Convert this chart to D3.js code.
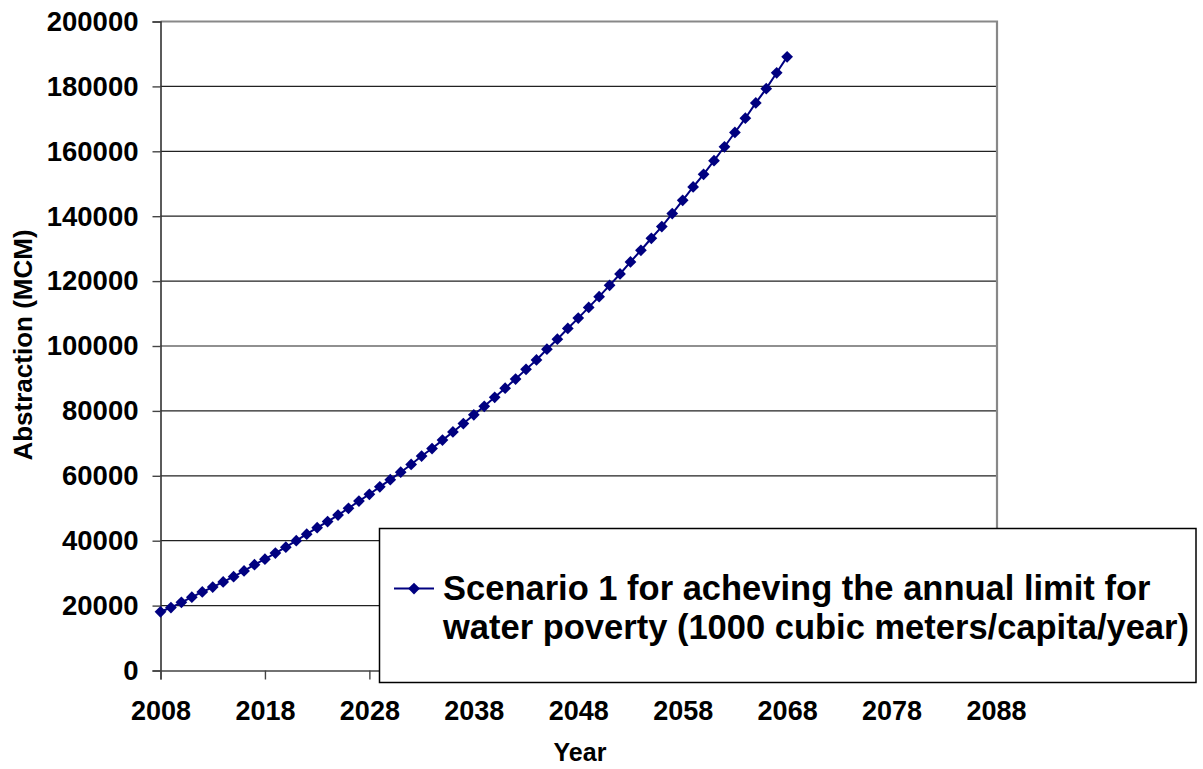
<!DOCTYPE html>
<html>
<head>
<meta charset="utf-8">
<script src="https://cdn.jsdelivr.net/npm/d3@7"></script>
<style>
  html, body { margin: 0; padding: 0; background: #fff; }
  svg { display: block; font-family: Arial, "Liberation Sans", sans-serif; font-weight: bold; }
</style>
</head>
<body>
<svg id="chart" width="1203" height="769"></svg>
<script>
// Projected annual abstraction, million cubic metres
const years = [
  2008, 2009, 2010, 2011, 2012, 2013, 2014, 2015, 2016, 2017,
  2018, 2019, 2020, 2021, 2022, 2023, 2024, 2025, 2026, 2027,
  2028, 2029, 2030, 2031, 2032, 2033, 2034, 2035, 2036, 2037,
  2038, 2039, 2040, 2041, 2042, 2043, 2044, 2045, 2046, 2047,
  2048, 2049, 2050, 2051, 2052, 2053, 2054, 2055, 2056, 2057,
  2058, 2059, 2060, 2061, 2062, 2063, 2064, 2065, 2066, 2067, 2068
];
const abstraction = [
  18100, 19400, 21000, 22600, 24200, 25700, 27300, 28900, 30700, 32600,
  34300, 36200, 38000, 40000, 42000, 44000, 45900, 47900, 50000, 52200,
  54300, 56600, 58800, 61100, 63500, 66100, 68400, 71000, 73500, 76100,
  78800, 81400, 84200, 87000, 89800, 92800, 95700, 99000, 102100, 105400,
  108600, 111900, 115200, 118700, 122200, 125900, 129500, 133200, 136800, 140800,
  144900, 149000, 152900, 157100, 161400, 165800, 170200, 174900, 179300, 184200, 189100
];
const xTicks = [2008, 2018, 2028, 2038, 2048, 2058, 2068, 2078, 2088];
const yTicks = [0, 20000, 40000, 60000, 80000, 100000, 120000, 140000, 160000, 180000, 200000];
const seriesName = ["Scenario 1 for acheving the annual limit for",
                    "water poverty (1000 cubic meters/capita/year)"];

const svg = d3.select("#chart");
const plot = { left: 160.5, right: 997, top: 21.5, bottom: 670.5 };
const navy = "#000080";
const font = "Arial, 'Liberation Sans', sans-serif";

const x = d3.scaleLinear().domain([2008, 2088]).range([plot.left, plot.right - 1]);
const y = d3.scaleLinear().domain([0, 200000]).range([plot.bottom, plot.top]);

// horizontal gridlines
svg.append("g")
  .selectAll("line")
  .data(yTicks.filter(v => v > 0 && v < 200000))
  .join("line")
  .attr("x1", plot.left).attr("x2", plot.right)
  .attr("y1", d => y(d)).attr("y2", d => y(d))
  .attr("stroke", "#222").attr("stroke-width", 1.2);

// top and right frame
svg.append("path")
  .attr("d", `M${plot.left},${plot.top}H${plot.right}V${plot.bottom}`)
  .attr("fill", "none").attr("stroke", "#888").attr("stroke-width", 2.2);

// y axis
const yAxis = d3.axisLeft(y).tickValues(yTicks).tickSize(8).tickPadding(14).tickFormat(d3.format("d"));
const gy = svg.append("g").attr("transform", `translate(${plot.left},0)`).call(yAxis);
gy.select(".domain").attr("stroke", "#333").attr("stroke-width", 1.6);
gy.selectAll(".tick line").attr("stroke", "#444").attr("stroke-width", 1.4);
gy.selectAll(".tick text").attr("font-size", 27.5).attr("font-weight", "bold")
  .attr("font-family", font).attr("fill", "#000");

// x axis
const xAxis = d3.axisBottom(x).tickValues(xTicks).tickSize(9).tickPadding(21).tickFormat(d3.format("d"));
const gx = svg.append("g").attr("transform", `translate(0,${plot.bottom})`).call(xAxis);
gx.select(".domain").attr("stroke", "#444").attr("stroke-width", 1.6);
gx.selectAll(".tick line").attr("stroke", "#444").attr("stroke-width", 1.4);
gx.selectAll(".tick text").attr("font-size", 27).attr("font-weight", "bold")
  .attr("font-family", font).attr("fill", "#000");

// axis titles
svg.append("text")
  .attr("transform", `translate(32,${(plot.top + plot.bottom) / 2 - 1}) rotate(-90)`)
  .attr("text-anchor", "middle")
  .attr("font-size", 26)
  .text("Abstraction (MCM)");

svg.append("text")
  .attr("x", 580).attr("y", 761)
  .attr("text-anchor", "middle")
  .attr("font-size", 25)
  .text("Year");

// series line and diamond markers
const pts = years.map((yr, i) => [yr, abstraction[i]]);
svg.append("path")
  .datum(pts)
  .attr("fill", "none")
  .attr("stroke", navy)
  .attr("stroke-width", 2)
  .attr("d", d3.line().x(d => x(d[0])).y(d => y(d[1])));

const diamond = d3.symbol().type(d3.symbolDiamond2).size(88);
svg.append("g")
  .selectAll("path")
  .data(pts)
  .join("path")
  .attr("transform", d => `translate(${x(d[0])},${y(d[1])})`)
  .attr("d", diamond)
  .attr("fill", navy);

// legend
const lg = svg.append("g");
lg.append("rect")
  .attr("x", 379.5).attr("y", 528.5).attr("width", 816.5).attr("height", 154)
  .attr("fill", "#fff").attr("stroke", "#000").attr("stroke-width", 1.5);
lg.append("line")
  .attr("x1", 394).attr("x2", 434).attr("y1", 588.5).attr("y2", 588.5)
  .attr("stroke", navy).attr("stroke-width", 2);
lg.append("path")
  .attr("transform", "translate(414,588.5)")
  .attr("d", diamond).attr("fill", navy);
lg.selectAll("text.entry")
  .data(seriesName)
  .join("text")
  .attr("class", "entry")
  .attr("x", 443)
  .attr("y", (d, i) => 600 + i * 38.5)
  .attr("font-size", 34.5)
  .text(d => d);
</script>
</body>
</html>
